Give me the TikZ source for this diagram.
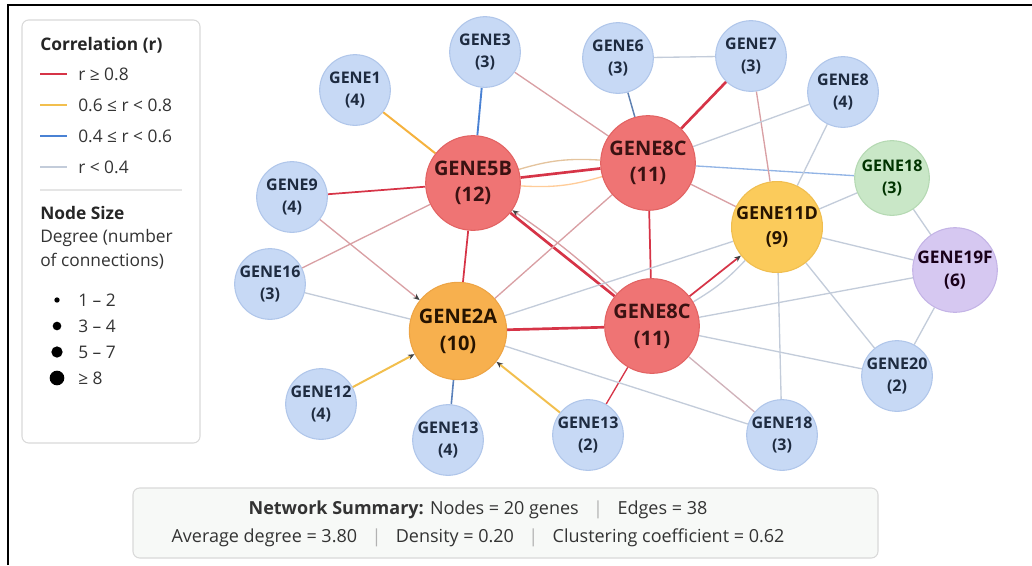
\documentclass[tikz,border=0pt]{standalone}
\usepackage{fontspec}
\setmainfont{Open Sans}
\usetikzlibrary{arrows.meta,backgrounds}

\definecolor{strongred}{HTML}{D63447}
\definecolor{midyellow}{HTML}{F2BF4E}
\definecolor{midblue}{HTML}{4A82D4}
\definecolor{weakgray}{HTML}{C3CCDA}
\definecolor{weakpink}{HTML}{D9A0A4}
\definecolor{curvetan}{HTML}{E4C49E}
\definecolor{bluefill}{HTML}{C7D9F5}
\definecolor{blueline}{HTML}{B0C6EA}
\definecolor{redfill}{HTML}{EF7474}
\definecolor{redline}{HTML}{E26363}
\definecolor{orangefill}{HTML}{F7B04E}
\definecolor{orangeline}{HTML}{EDA445}
\definecolor{yellowfill}{HTML}{FBCB5B}
\definecolor{yellowline}{HTML}{F0BE50}
\definecolor{greenfill}{HTML}{C9E7C7}
\definecolor{greenline}{HTML}{B5D9B3}
\definecolor{purplefill}{HTML}{D6C8F1}
\definecolor{purpleline}{HTML}{C4B4E6}
\definecolor{genetext}{HTML}{1E2B40}
\definecolor{hubtext}{HTML}{3A1212}
\definecolor{legendtext}{HTML}{333333}

\tikzset{
	gene/.style={circle, inner sep=0pt, align=center, line width=0.8pt, minimum size=53pt,
		fill=bluefill, draw=blueline, text=genetext, font=\bfseries\fontsize{12}{16}\selectfont},
	hub/.style={gene, minimum size=71pt, fill=redfill, draw=redline, text=hubtext,
		font=\bfseries\fontsize{15}{20}\selectfont},
	rstrong/.style={draw=strongred, line width=2pt},
	rmid/.style={draw=strongred, line width=1.3pt},
	ymid/.style={draw=midyellow, line width=1.5pt},
	bmid/.style={draw=midblue, line width=1.4pt},
	weak/.style={draw=weakgray, line width=1pt},
	weakr/.style={draw=weakpink, line width=1pt},
	tanc/.style={draw=curvetan, line width=1pt},
	tip/.style={-{Stealth[length=5pt,width=4pt,color=black!75]}},
	legtext/.style={anchor=west, inner sep=0pt, text=legendtext, font=\fontsize{13}{15}\selectfont},
	legtitle/.style={legtext, text=black!85, font=\bfseries\fontsize{13}{15}\selectfont},
	sizedot/.style={circle, fill=black, inner sep=0pt}
}

\newcommand{\sep}{\hspace{0.8em}{\color{black!30}|}\hspace{0.8em}}

\begin{document}
\begin{tikzpicture}[x=0.75pt,y=-0.75pt]
	\useasboundingbox (0,0) rectangle (1032,565);
	\draw[line width=1.5pt] (8,565) -- (8,5) -- (1032,5);
	
	\node[gene] (g1) at (355,90) {GENE1\\(4)};
	\node[gene] (g3) at (485,52) {GENE3\\(3)};
	\node[gene] (g6) at (618,58) {GENE6\\(3)};
	\node[gene] (g7) at (751,56) {GENE7\\(3)};
	\node[gene] (g8) at (843,92) {GENE8\\(4)};
	\node[gene] (g9) at (292,197) {GENE9\\(4)};
	\node[gene] (g16) at (270,284) {GENE16\\(3)};
	\node[gene] (g12) at (321,404) {GENE12\\(4)};
	\node[gene] (g13a) at (448,440) {GENE13\\(4)};
	\node[gene] (g13b) at (588,435) {GENE13\\(2)};
	\node[gene] (g18b) at (782,435) {GENE18\\(3)};
	\node[gene] (g20) at (897,376) {GENE20\\(2)};
	\node[gene, minimum size=56pt, fill=greenfill, draw=greenline, text=black!80!green] (g18) at (892,178) {GENE18\\(3)};
	\node[gene, minimum size=63pt, fill=purplefill, draw=purpleline, text=black!80!violet,
		font=\bfseries\fontsize{13}{17.5}\selectfont] (g19f) at (955,270) {GENE19F\\(6)};
	
	\node[hub] (g5b) at (473,183) {GENE5B\\(12)};
	\node[hub] (g8ct) at (648,163) {GENE8C\\(11)};
	\node[hub] (g8cb) at (652,326) {GENE8C\\(11)};
	\node[hub, minimum size=73pt, fill=orangefill, draw=orangeline, text=black!85!orange] (g2a) at (458,331) {GENE2A\\(10)};
	\node[hub, minimum size=68pt, fill=yellowfill, draw=yellowline, text=black!85!orange,
		font=\bfseries\fontsize{13.5}{18.5}\selectfont] (g11d) at (777,227) {GENE11D\\(9)};
	
	\begin{scope}[on background layer]
	\path[rstrong] (g5b) edge (g8ct);
	\path[rstrong] (g5b) edge (g8cb);
	\path[rstrong] (g2a) edge (g8cb);
	\path[rstrong] (g8ct) edge (g7);
	\path[rmid] (g9) edge (g5b);
	\path[rmid] (g5b) edge (g2a);
	\path[rmid] (g8ct) edge (g8cb);
	\path[rmid, tip] (g8cb) edge (g11d);
	\path[rmid, line width=1pt] (g8cb) edge (g13b);
	
	\path[ymid, draw=midyellow!80!orange] (g1) edge (g5b);
	\path[ymid, tip] (g12) edge (g2a);
	\path[ymid, tip] (g13b) edge (g2a);
	
	\path[bmid] (g3) edge (g5b);
	\path[bmid, draw=midblue!60!gray, line width=1.1pt] (g6) edge (g8ct);
	\path[bmid, draw=midblue!70!gray, line width=1.2pt] (g13a) edge (g2a);
	\path[bmid, draw=midblue!60!white, line width=1pt] (g8ct) edge (g18);
	
	\path[weakr] (g3) edge (g8ct);
	\path[weakr] (g7) edge (g11d);
	\path[weakr] (g8ct) edge (g11d);
	\path[weakr] (g16) edge (g5b);
	\path[weakr, tip] (g9) edge (g2a);
	\path[weakr] (g2a) edge (g8ct);
	\path[weakr, tip] (g8cb) edge[bend right=4] (g5b);
	\path[weakr, draw=weakpink!60!weakgray] (g8cb) edge (g18b);
	
	\path[weak] (g6) edge (g7);
	\path[weak] (g8) edge (g8ct);
	\path[weak] (g8) edge (g11d);
	\path[weak] (g11d) edge (g18);
	\path[weak] (g18) edge (g19f);
	\path[weak] (g11d) edge (g19f);
	\path[weak] (g8cb) edge (g19f);
	\path[weak] (g19f) edge (g20);
	\path[weak] (g11d) edge (g20);
	\path[weak] (g11d) edge (g18b);
	\path[weak] (g8cb) edge (g20);
	\path[weak] (g8cb) edge[bend right=8] (g11d);
	\path[weak] (g2a) edge (g18b);
	\path[weak] (g2a) edge (g11d);
	\path[weak] (g16) edge (g2a);
	
	\path[tanc] (g5b) edge[bend left=10] (g8ct);
	\path[tanc, draw=orange!40] (g5b) edge[bend right=10] (g8ct);
	\end{scope}
	
	\draw[draw=black!15, fill=white, rounded corners=5pt, line width=0.8pt] (22,20) rectangle (200,443);
	\node[legtitle] (corrtitle) at (40,45) {Correlation (r)};
	\draw[strongred, line width=1.5pt] (40,74) -- (67,74);
	\draw[midyellow, line width=1.5pt] (40,105) -- (67,105);
	\draw[midblue, line width=1.5pt] (40,136) -- (67,136);
	\draw[weakgray, line width=1.5pt] (40,167) -- (67,167);
	\node[legtext] (corr1) at (78,74) {r ≥ 0.8};
	\node[legtext] (corr2) at (78,105) {0.6 ≤ r < 0.8};
	\node[legtext] (corr3) at (78,136) {0.4 ≤ r < 0.6};
	\node[legtext] (corr4) at (78,167) {r < 0.4};
	\draw[black!10, line width=0.8pt] (40,190) -- (182,190);
	\node[legtitle] (sizetitle) at (40,213) {Node Size};
	\node[legtext] (degree1) at (40,238) {Degree (number};
	\node[legtext] (degree2) at (40,261) {of connections)};
	\node[sizedot, minimum size=4pt] (dot1) at (57,300) {};
	\node[sizedot, minimum size=6.5pt] (dot2) at (57,326) {};
	\node[sizedot, minimum size=8.5pt] (dot3) at (57,352) {};
	\node[sizedot, minimum size=11pt] (dot4) at (57,378) {};
	\node[legtext] (size1) at (78,300) {1 – 2};
	\node[legtext] (size2) at (78,326) {3 – 4};
	\node[legtext] (size3) at (78,352) {5 – 7};
	\node[legtext] (size4) at (78,378) {≥ 8};
	
	\draw[draw=black!15, fill=green!20!black!3, rounded corners=5pt, line width=0.8pt] (133,488) rectangle (878,558);
	\node[align=center, text=legendtext, font=\fontsize{13.5}{21}\selectfont] (summary) at (478,524)
		{\textbf{Network Summary:} Nodes = 20 genes\sep Edges = 38\\
		Average degree = 3.80\sep Density = 0.20\sep Clustering coefficient = 0.62};
	
\end{tikzpicture}
\end{document}
